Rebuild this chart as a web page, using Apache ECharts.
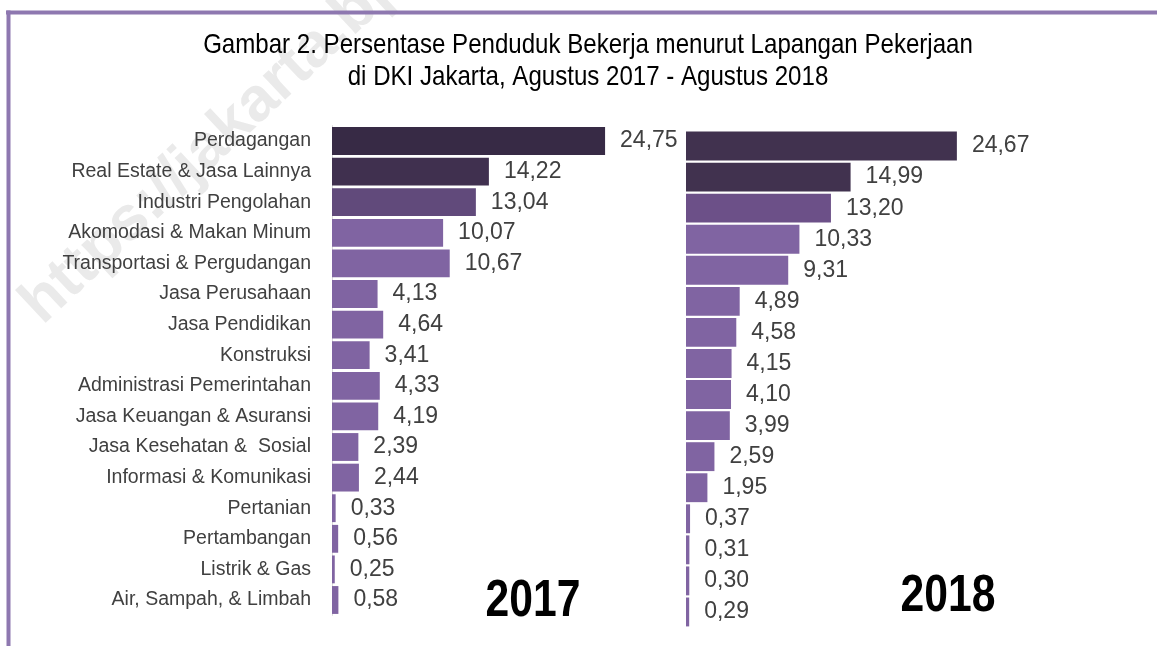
<!DOCTYPE html>
<html>
<head>
<meta charset="utf-8">
<title>Persentase Penduduk Bekerja DKI Jakarta</title>
<script src="https://cdn.jsdelivr.net/npm/echarts@6/dist/echarts.min.js"></script>
<style>
  html, body { margin: 0; padding: 0; background: #fff; }
  #chart { width: 1157px; height: 646px; }
</style>
</head>
<body>
<div id="chart"></div>
<script>
// kategori lapangan pekerjaan (urutan seperti di gambar)
const categories = [
  'Perdagangan',
  'Real Estate & Jasa Lainnya',
  'Industri Pengolahan',
  'Akomodasi & Makan Minum',
  'Transportasi & Pergudangan',
  'Jasa Perusahaan',
  'Jasa Pendidikan',
  'Konstruksi',
  'Administrasi Pemerintahan',
  'Jasa Keuangan & Asuransi',
  'Jasa Kesehatan &  Sosial',
  'Informasi & Komunikasi',
  'Pertanian',
  'Pertambangan',
  'Listrik & Gas',
  'Air, Sampah, & Limbah'
]
const values2017 = [24.75, 14.22, 13.04, 10.07, 10.67, 4.13, 4.64, 3.41, 4.33, 4.19, 2.39, 2.44, 0.33, 0.56, 0.25, 0.58]
const values2018 = [24.67, 14.99, 13.20, 10.33, 9.31, 4.89, 4.58, 4.15, 4.10, 3.99, 2.59, 1.95, 0.37, 0.31, 0.30, 0.29]
const colors2017 = ['#372a45', '#40304f', '#614a7b']
const colors2018 = ['#41324f', '#41324f', '#6c5088']
const baseColor = '#8064a2'

const sans = "'Liberation Sans', Arial, sans-serif"
// Arial Narrow tidak ada, jadi teks judul dipersempit manual
const narrowScale = 0.82

const fmt = (v) => v.toFixed(2).replace('.', ',')

const barData = (vals, top) => vals.map((v, i) => ({
  value: v,
  itemStyle: { color: top[i] || baseColor }
}))

const barSeries = (idx, vals, top, gap) => ({
  type: 'bar',
  xAxisIndex: idx,
  yAxisIndex: idx,
  barCategoryGap: gap,
  data: barData(vals, top),
  label: {
    show: true,
    position: 'right',
    distance: 15,
    color: '#404040',
    fontFamily: sans,
    fontSize: 23,
    formatter: (p) => fmt(p.value)
  },
  silent: true
})

const options = {
  animation: false,
  grid: [
    { left: 332, top: 125.7, width: 331, height: 489.6 },
    { left: 686, top: 130.5, width: 329.4, height: 497 }
  ],
  xAxis: [
    { gridIndex: 0, type: 'value', min: 0, max: 30, show: false },
    { gridIndex: 1, type: 'value', min: 0, max: 30, show: false }
  ],
  yAxis: [
    {
      gridIndex: 0,
      type: 'category',
      inverse: true,
      data: categories,
      axisLine: { show: true, lineStyle: { color: '#d9d9d9', width: 1 } },
      axisTick: { show: false },
      axisLabel: {
        margin: 21,
        color: '#404040',
        fontFamily: sans,
        fontSize: 19.5
      }
    },
    {
      gridIndex: 1,
      type: 'category',
      inverse: true,
      data: categories,
      axisLine: { show: false },
      axisTick: { show: false },
      axisLabel: { show: false }
    }
  ],
  series: [
    barSeries(0, values2017, colors2017, '9%'),
    barSeries(1, values2018, colors2018, '7%')
  ],
  graphic: [
    // watermark
    {
      type: 'text',
      x: 52,
      y: 336,
      rotation: 43 * Math.PI / 180,
      z: -10,
      silent: true,
      style: {
        text: 'https://jakarta.bps.go.id',
        font: 'bold 62px ' + sans,
        fill: '#eaeaea',
        textAlign: 'left',
        textVerticalAlign: 'bottom'
      }
    },
    // bingkai
    {
      type: 'line',
      silent: true,
      shape: { x1: 6, y1: 12.5, x2: 1157, y2: 12.5 },
      style: { stroke: '#8e78b0', lineWidth: 4 }
    },
    {
      type: 'line',
      silent: true,
      shape: { x1: 8.5, y1: 10.5, x2: 8.5, y2: 646 },
      style: { stroke: '#8e78b0', lineWidth: 4 }
    },
    // judul
    {
      type: 'text',
      x: 588,
      y: 29,
      scaleX: 0.86,
      style: {
        text: 'Gambar 2. Persentase Penduduk Bekerja menurut Lapangan Pekerjaan\ndi DKI Jakarta, Agustus 2017 - Agustus 2018',
        font: '28px ' + sans,
        lineHeight: 32,
        fill: '#000',
        textAlign: 'center',
        textVerticalAlign: 'top'
      }
    },
    {
      type: 'text',
      x: 533,
      y: 602,
      scaleX: narrowScale,
      style: {
        text: '2017',
        font: 'bold 52px ' + sans,
        fill: '#000',
        textAlign: 'center',
        textVerticalAlign: 'middle'
      }
    },
    {
      type: 'text',
      x: 948,
      y: 597,
      scaleX: narrowScale,
      style: {
        text: '2018',
        font: 'bold 52px ' + sans,
        fill: '#000',
        textAlign: 'center',
        textVerticalAlign: 'middle'
      }
    }
  ]
}

const chart = echarts.init(document.getElementById('chart'))
chart.setOption(options)
window.addEventListener('resize', () => {
  chart.resize()
})
</script>
</body>
</html>
